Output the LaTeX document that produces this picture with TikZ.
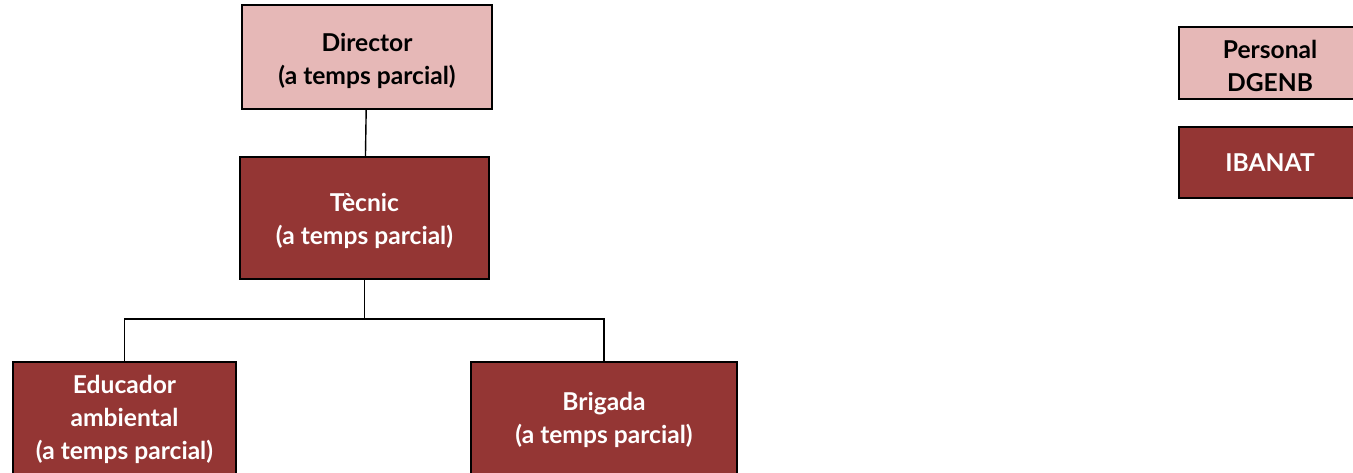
\documentclass[tikz,border=0pt]{standalone}
\usepackage{fontspec}
\setmainfont{Lato}
\usepackage{tikz}

\definecolor{dgenbpink}{HTML}{E6B8B7}
\definecolor{ibanatred}{HTML}{943634}

\begin{document}
\begin{tikzpicture}[x=0.02cm, y=-0.02cm]

	\tikzstyle{dgenb_node}=[rectangle, fill=dgenbpink, draw=black, line width=1.1pt, align=center, inner ysep=0pt, text=black, font=\fontsize{14}{19}\selectfont\bfseries]
	\tikzstyle{ibanat_node}=[rectangle, fill=ibanatred, draw=black, line width=1.1pt, align=center, inner ysep=0pt, text=white, font=\fontsize{14}{19}\selectfont\bfseries]
	\tikzstyle{link}=[draw=black, line width=0.8pt]

	\clip (0,0) rectangle (1353,473);

	%Main nodes
	\node[dgenb_node, minimum width=5cm, text height=1.60cm, text depth=0.48cm] at (367, 57) (director) {Director\\(a temps parcial)};
	\node[ibanat_node, minimum width=4.98cm, text height=1.76cm, text depth=0.68cm] at (364.5, 218) (tecnic) {Tècnic\\(a temps parcial)};
	\node[ibanat_node, minimum width=4.46cm, text height=1.96cm, text depth=0.40cm] at (124.5, 421) (educador) {Educador\\ambiental\\(a temps parcial)};
	\node[ibanat_node, minimum width=5.32cm, text height=1.64cm, text depth=0.68cm] at (604, 420) (brigada) {Brigada\\(a temps parcial)};

	% Legend
	\node[dgenb_node, minimum width=3.64cm, text height=1.30cm, text depth=0.14cm] at (1270, 63) (personal) {Personal\\DGENB};
	\node[ibanat_node, minimum width=3.64cm, minimum height=1.42cm] at (1270, 162.5) (ibanat) {IBANAT};

	\coordinate (branch) at (364.5, 319);

	% Connections
	\draw[link] (director) -- (tecnic);
	\draw[link] (tecnic) -- (branch);
	\draw[link] (branch) -| (educador);
	\draw[link] (branch) -| (brigada);

\end{tikzpicture}
\end{document}
